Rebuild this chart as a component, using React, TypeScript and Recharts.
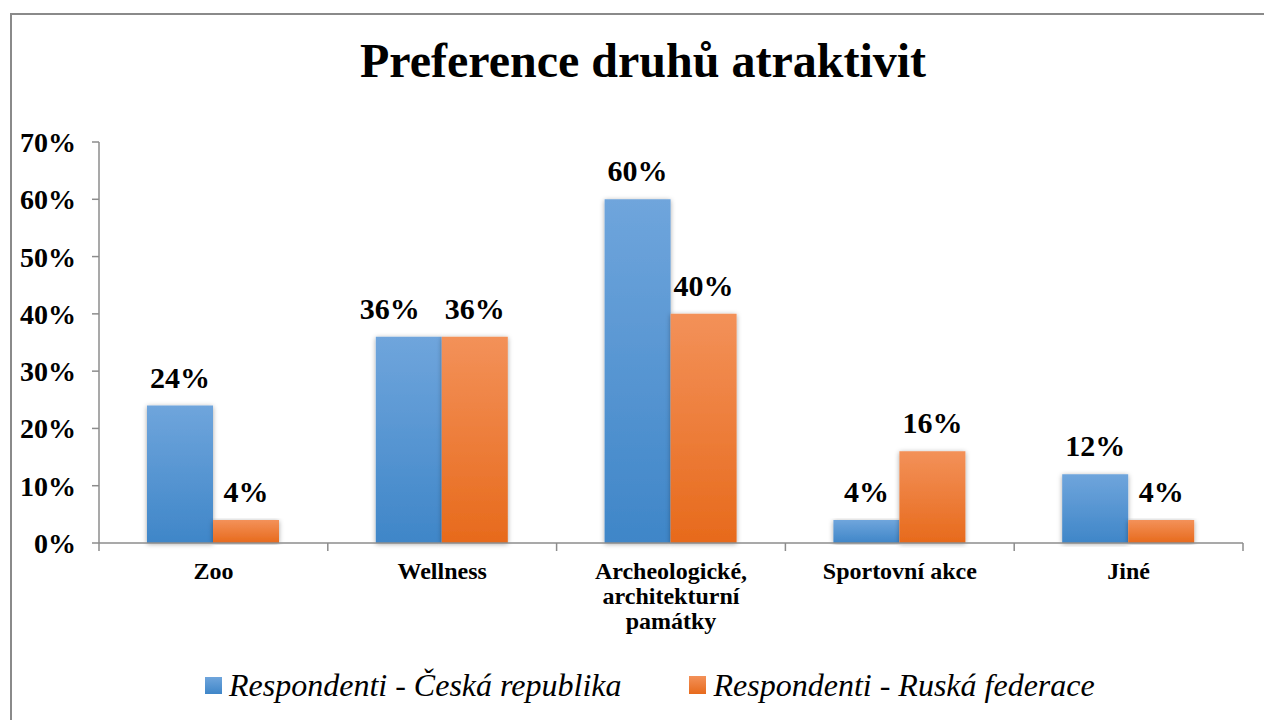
import React from "react";
import { BarChart, Bar, XAxis, YAxis, Legend, LabelList } from "recharts";

const categories = ["Zoo", "Wellness", "Archeologické, architekturní památky", "Sportovní akce", "Jiné"];
const czech = [24, 36, 60, 4, 12];
const russia = [4, 36, 40, 16, 4];
const yTicks = [0, 10, 20, 30, 40, 50, 60, 70];
const seriesNames = ["Respondenti - Česká republika", "Respondenti - Ruská federace"];
const title = "Preference druhů atraktivit";

const data = categories.map((c, i) => ({ name: c, cz: czech[i], ru: russia[i] }));

const FONT = "'Liberation Serif', 'Times New Roman', serif";
const PLOT_LEFT = 99;
const PLOT_RIGHT = 1243;
const BAND = (PLOT_RIGHT - PLOT_LEFT) / categories.length;

const XTick = (props: any) => {
  const { x, y, payload, index } = props;
  const label: string = payload.value;
  let lines: string[] = [label];
  if (label.startsWith("Archeologické")) lines = ["Archeologické,", "architekturní", "památky"];
  return (
    <g>
      <line x1={x - BAND / 2} x2={x - BAND / 2} y1={y - 8} y2={y} stroke="#8c8c8c" strokeWidth={1.5} />
      {index === categories.length - 1 && (
        <line x1={x + BAND / 2} x2={x + BAND / 2} y1={y - 8} y2={y} stroke="#8c8c8c" strokeWidth={1.5} />
      )}
      {lines.map((l, i) => (
        <text key={i} x={x} y={y + 28 + i * 25} textAnchor="middle" fontFamily={FONT} fontWeight="bold" fontSize={24} fill="#000">
          {l}
        </text>
      ))}
    </g>
  );
};

const LegendContent = () => (
  <div style={{ height: 60, display: "flex", justifyContent: "flex-start", alignItems: "center", fontFamily: FONT, fontStyle: "italic", fontSize: 32, color: "#000", paddingLeft: 205 }}>
    <span style={{ display: "inline-block", width: 17, height: 17, background: "linear-gradient(#6fa5dc, #3f86c8)", marginRight: 7 }} />
    <span style={{ marginRight: 67 }}>{seriesNames[0]}</span>
    <span style={{ display: "inline-block", width: 17, height: 18, background: "linear-gradient(#f39159, #e76a1c)", marginRight: 8 }} />
    <span>{seriesNames[1]}</span>
  </div>
);

const makeLabel = (series: "cz" | "ru") => (props: any) => {
  const { x, y, width, value, index } = props;
  // Excel nudges the first label left when both bars in a group are equally tall
  const clash = czech[index] === russia[index];
  const shift = clash ? (series === "cz" ? -19 : 0) : 0;
  return (
    <text x={x + width / 2 + shift} y={y - 18} textAnchor="middle" fontFamily={FONT} fontWeight="bold" fontSize={30} fill="#000">
      {`${value}%`}
    </text>
  );
};

export default function App() {
  return (
    <div style={{ position: "absolute", left: 0, top: 0, width: 1264, height: 720, background: "#fff", overflow: "hidden" }}>
      <div style={{ position: "absolute", left: 10, top: 13, width: 1300, height: 800, borderLeft: "2px solid #8a8a8a", borderTop: "2px solid #8a8a8a" }} />
      <div style={{ position: "absolute", left: 10, width: 1266, top: 33, textAlign: "center", fontFamily: FONT, fontWeight: "bold", fontSize: 48, color: "#000" }}>
        {title}
      </div>
      <div style={{ position: "absolute", left: 0, top: 0 }}>
        <BarChart width={1264} height={720} data={data} margin={{ top: 142, right: 21, bottom: 5, left: 0 }} barCategoryGap={48} barGap={0}>
          <defs>
            <linearGradient id="gBlue" x1="0" y1="0" x2="0" y2="1">
              <stop offset="0%" stopColor="#6fa5dc" />
              <stop offset="100%" stopColor="#3f86c8" />
            </linearGradient>
            <linearGradient id="gOrange" x1="0" y1="0" x2="0" y2="1">
              <stop offset="0%" stopColor="#f39159" />
              <stop offset="100%" stopColor="#e76a1c" />
            </linearGradient>
            <filter id="shadow" x="-20%" y="-5%" width="140%" height="110%">
              <feDropShadow dx="0" dy="1" stdDeviation="2.5" floodColor="#000" floodOpacity="0.35" />
            </filter>
          </defs>
          <XAxis
            dataKey="name"
            interval={0}
            height={112}
            tickLine={false}
            axisLine={{ stroke: "#8c8c8c", strokeWidth: 1.5 }}
            tick={<XTick />}
          />
          <YAxis
            width={99}
            domain={[0, 70]}
            ticks={yTicks}
            tickFormatter={(v: number) => `${v}%`}
            tickSize={7}
            tickMargin={16}
            axisLine={{ stroke: "#8c8c8c", strokeWidth: 1.5 }}
            tickLine={{ stroke: "#8c8c8c", strokeWidth: 1.5 }}
            tick={{ fontFamily: FONT, fontWeight: "bold", fontSize: 28, fill: "#000" }}
          />
          <Legend verticalAlign="bottom" height={60} content={<LegendContent />} />
          <Bar dataKey="cz" name={seriesNames[0]} fill="url(#gBlue)" filter="url(#shadow)" isAnimationActive={false}>
            <LabelList dataKey="cz" content={makeLabel("cz")} />
          </Bar>
          <Bar dataKey="ru" name={seriesNames[1]} fill="url(#gOrange)" filter="url(#shadow)" isAnimationActive={false}>
            <LabelList dataKey="ru" content={makeLabel("ru")} />
          </Bar>
        </BarChart>
      </div>
    </div>
  );
}
